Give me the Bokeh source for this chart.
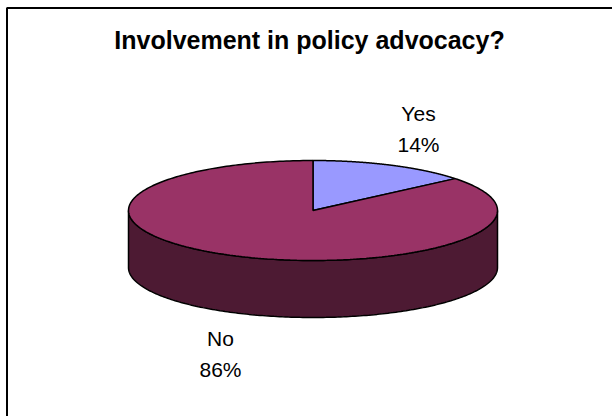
import numpy as np
from bokeh.plotting import figure
from bokeh.models import Range1d
from bokeh.core.properties import value
from bokeh.embed import file_html
from bokeh.resources import INLINE

# ---- data ----
title = "Involvement in policy advocacy?"
categories = ["Yes", "No"]
percents = [14, 86]
top_colors = ["#9999FF", "#993366"]
side_colors = ["#4C4C80", "#4D1A33"]

# ---- layout ----
W, H = 612, 416
cx, cy, rx, ry, depth = 312.5, 210.0, 184.5, 50.0, 57.0
label_pos = {"Yes": (418, 113), "No": (220, 338)}
label_gap = 31

p = figure(width=W, height=H, output_backend="svg", toolbar_location=None,
           x_range=Range1d(0, W), y_range=Range1d(H, 0), min_border=0)
p.axis.visible = False
p.grid.visible = False
p.outline_line_color = None
p.background_fill_color = "white"
p.border_fill_color = "white"

# chart border (extends beyond the window on right/bottom)
p.quad(left=[6.5], right=[W + 20], top=[7.5], bottom=[H + 20],
       fill_color=None, line_color="black", line_width=2)

def pt(t, dy=0.0):
    return cx + rx * np.sin(t), cy - ry * np.cos(t) + dy

fr = np.array(percents, dtype=float) / sum(percents)
starts = np.concatenate([[0], np.cumsum(fr)[:-1]]) * 2 * np.pi
ends = np.cumsum(fr) * 2 * np.pi

# sides (front half: t in [pi/2, 3pi/2])
for s, e, col in zip(starts, ends, side_colors):
    a, b = max(s, np.pi / 2), min(e, 3 * np.pi / 2)
    if b <= a:
        continue
    t = np.linspace(a, b, 200)
    xt, yt = pt(t)
    xb, yb = pt(t[::-1], depth)
    xs = np.concatenate([xt, xb])
    ys = np.concatenate([yt, yb])
    p.patch(xs, ys, fill_color=col, line_color="black", line_width=1.5)

# tops
for s, e, col in zip(starts, ends, top_colors):
    t = np.linspace(s, e, 300)
    xt, yt = pt(t)
    xs = np.concatenate([[cx], xt])
    ys = np.concatenate([[cy], yt])
    p.patch(xs, ys, fill_color=col, line_color="black", line_width=1.5)

# title
p.text(x=[W / 2 + 3], y=[39], text=[title], text_font=value("Liberation Sans"),
       text_font_style="bold", text_font_size="25px", text_align="center",
       text_baseline="middle", text_color="black")

# labels
for cat, pc in zip(categories, percents):
    lx, ly = label_pos[cat]
    p.text(x=[lx, lx], y=[ly, ly + label_gap], text=[cat, f"{pc}%"],
           text_font=value("Liberation Sans"), text_font_size="21px",
           text_align="center", text_baseline="middle", text_color="black")

open("out.html", "w").write(file_html(p, INLINE))
